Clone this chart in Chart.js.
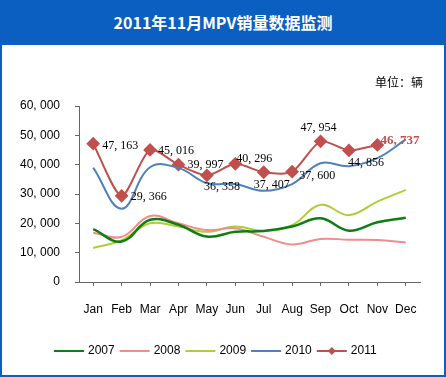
<!DOCTYPE html>
<html>
<head>
<meta charset="utf-8">
<script src="https://cdn.jsdelivr.net/npm/chart.js@4/dist/chart.umd.min.js"></script>
<style>
  body { margin: 0; background: #fff; }
  #frame { position: absolute; left: 0; top: 0; width: 446px; height: 377px; overflow: hidden; }
  #head { position: absolute; left: 0; top: 0; width: 446px; height: 45px; background: #0a5fc0;
          color: #fff; font: bold 16px "Noto Sans CJK SC", sans-serif; text-align: center; line-height: 45px; }
  #unit { position: absolute; left: 375px; top: 73px; font: 12px "Noto Sans CJK SC", sans-serif; color: #000; }
  #box { position: absolute; left: 0; top: 45px; width: 446px; height: 332px; box-sizing: border-box;
         border: 2px solid #0a5fc0; border-top: none; pointer-events: none; }
  #wrap { position: absolute; left: 0; top: 44px; width: 446px; height: 333px; }
</style>
</head>
<body>
<div id="frame">
  <div id="head">2011年11月MPV销量数据监测</div>
  <div id="wrap"><canvas id="myChart" width="446" height="333"></canvas></div>
  <div id="box"></div>
  <div id="unit">单位：辆</div>
</div>
<script>
const months = ["Jan", "Feb", "Mar", "Apr", "May", "Jun", "Jul", "Aug", "Sep", "Oct", "Nov", "Dec"];
const s2007 = [18000, 13800, 21200, 19500, 15500, 17100, 17400, 18900, 21700, 17500, 20400, 21900];
const s2008 = [16800, 15400, 22500, 20000, 17700, 18300, 15400, 12800, 14700, 14400, 14300, 13500];
const s2009 = [11600, 14300, 20000, 18900, 17100, 18900, 17400, 19400, 26300, 22800, 27400, 31400];
const s2010 = [39000, 25000, 39100, 38900, 33700, 33400, 31100, 33400, 40500, 39500, 42200, 48600];
const s2011 = [47163, 29366, 45016, 39997, 36358, 40296, 37407, 37600, 47954, 44856, 46737];
const yTicks = [0, 10000, 20000, 30000, 40000, 50000, 60000];

function fmt(v) {
    const s = String(v);
    if (s.length <= 3) return s;
    return s.slice(0, s.length - 3) + ", " + s.slice(s.length - 3);
}

// label placement around each 2011 point: [dx, dy, align]
const labelPlace = [
    [9, 2, "left"], [9, 1, "left"], [8, 1, "left"], [9, 0, "left"],
    [15, 11, "center"], [1, -5, "left"], [8, 13, "center"], [7, 4, "left"],
    [-2, -13, "center"], [17, 12, "center"], [3, -4, "left"]
];

const pointLabels = {
    id: "pointLabels",
    afterDatasetsDraw(chart) {
        const ctx = chart.ctx;
        const meta = chart.getDatasetMeta(4);
        ctx.save();
        ctx.textBaseline = "middle";
        meta.data.forEach((pt, i) => {
            const p = labelPlace[i];
            const last = i === s2011.length - 1;
            ctx.font = (last ? "bold 13px" : "12px") + " 'Liberation Serif'";
            ctx.fillStyle = last ? "#c0504d" : "#000";
            ctx.textAlign = p[2];
            ctx.fillText(fmt(s2011[i]), pt.x + p[0], pt.y + p[1]);
        });
        ctx.restore();
    }
};

const legendBox = {
    id: "legendBox",
    afterDraw(chart) {
        const ctx = chart.ctx;
        const y = 307;
        let x = 54;
        ctx.save();
        ctx.font = "12px 'Liberation Sans'";
        ctx.textBaseline = "middle";
        ctx.textAlign = "left";
        chart.data.datasets.forEach((ds, i) => {
            ctx.strokeStyle = ds.borderColor;
            ctx.lineWidth = 2;
            ctx.beginPath();
            ctx.moveTo(x, y);
            ctx.lineTo(x + 30, y);
            ctx.stroke();
            if (i === 4) {
                ctx.fillStyle = ds.borderColor;
                ctx.beginPath();
                ctx.moveTo(x + 15, y - 4);
                ctx.lineTo(x + 19, y);
                ctx.lineTo(x + 15, y + 4);
                ctx.lineTo(x + 11, y);
                ctx.closePath();
                ctx.fill();
            }
            ctx.fillStyle = "#000";
            ctx.fillText(ds.label, x + 34, y);
            x += 34 + ctx.measureText(ds.label).width + 5;
        });
        ctx.restore();
    }
};

function line(label, data, color, width) {
    return {
        label: label,
        data: data,
        borderColor: color,
        backgroundColor: color,
        borderWidth: width,
        fill: false,
        tension: 0.4,
        pointRadius: 0
    };
}

const d2011 = line("2011", s2011, "#c0504d", 2);
d2011.tension = 0.25;
d2011.pointRadius = 5.5;
d2011.pointStyle = "rectRot";

new Chart("myChart", {
    type: "line",
    data: {
        labels: months,
        datasets: [
            line("2007", s2007, "#0e7d12", 2.5),
            line("2008", s2008, "#f08c8c", 2),
            line("2009", s2009, "#afcd3a", 2),
            line("2010", s2010, "#4f81bd", 2),
            d2011
        ]
    },
    options: {
        responsive: false,
        animation: false,
        layout: { padding: { left: 0, right: 26, top: 62, bottom: 0 } },
        plugins: {
            legend: { display: false },
            tooltip: { enabled: false }
        },
        scales: {
            x: {
                offset: true,
                grid: { display: true, drawOnChartArea: false, tickLength: 4, color: "#666" },
                border: { color: "#666" },
                ticks: { color: "#000", font: { family: "Liberation Sans", size: 12 }, padding: 16,
                         autoSkip: false, maxRotation: 0 },
                afterFit(s) { s.height = 95; }
            },
            y: {
                min: 0,
                max: 60000,
                afterBuildTicks(s) { s.ticks = yTicks.map(v => ({ value: v })); },
                grid: { display: true, drawOnChartArea: false, tickLength: 4, color: "#666" },
                border: { color: "#666" },
                ticks: { color: "#000", font: { family: "Liberation Sans", size: 12 }, padding: 15,
                         callback: v => fmt(v) },
                afterFit(s) { s.width = 79; }
            }
        }
    },
    plugins: [pointLabels, legendBox]
});
</script>
</body>
</html>
